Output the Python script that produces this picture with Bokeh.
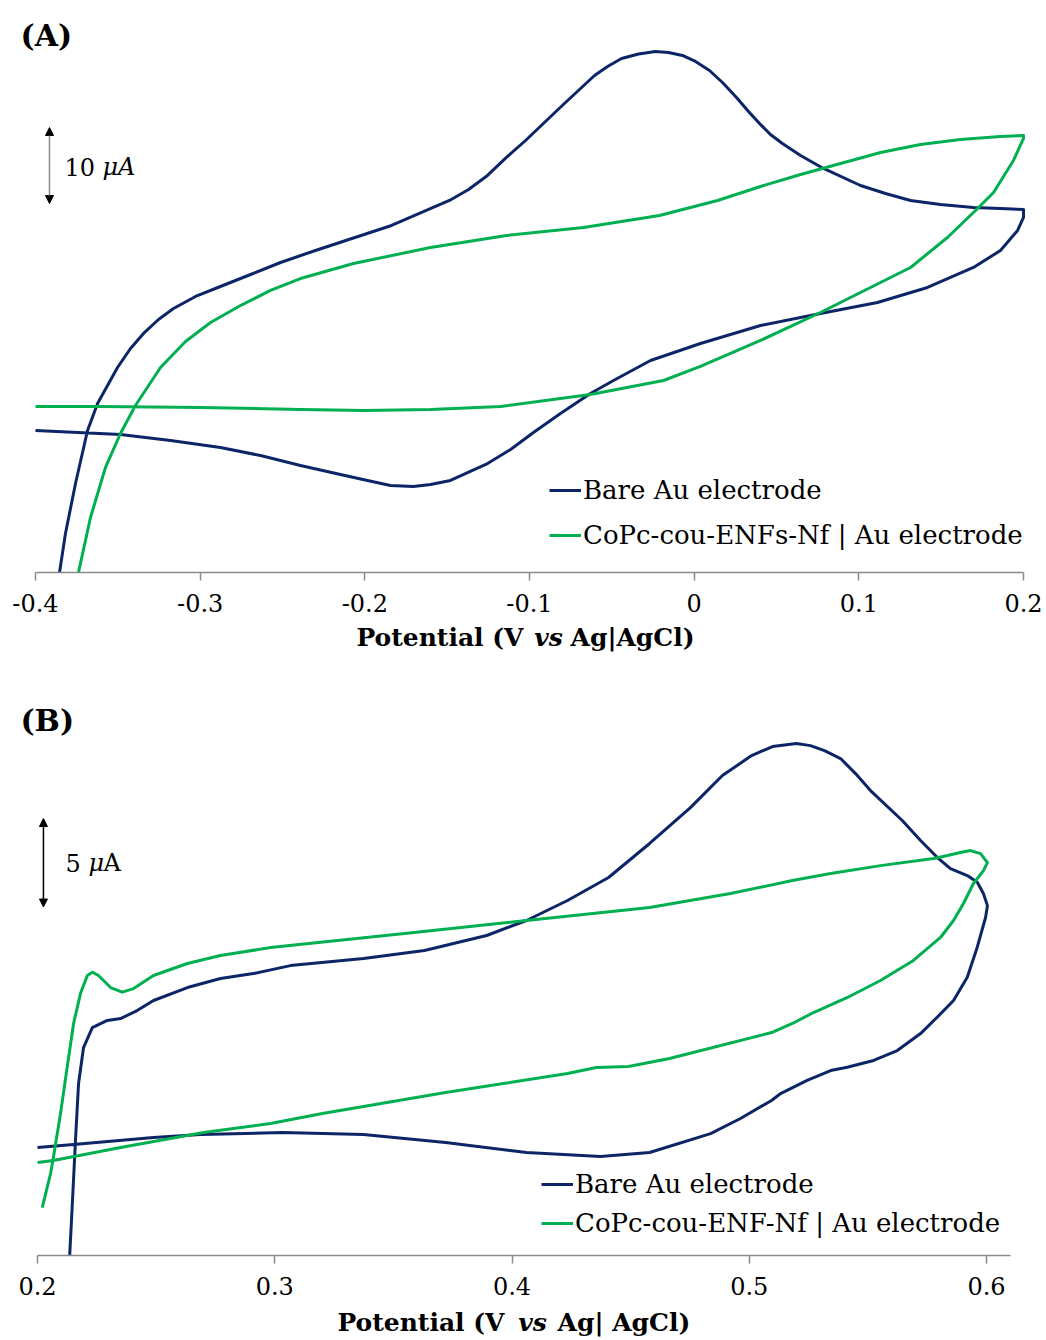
from bokeh.plotting import figure
from bokeh.models import Range1d, FixedTicker, Legend, LegendItem, Label, Arrow, NormalHead
from bokeh.layouts import column
from bokeh.embed import file_html
from bokeh.resources import INLINE

# ---------------- Panel A data (potential V vs Ag|AgCl, current in uA) ----------------
A_BARE_V = [-0.3866, -0.3854, -0.3818, -0.3757, -0.3684, -0.3623, -0.3502, -0.3423, -0.3344,
            -0.3253, -0.3162, -0.3028, -0.2877, -0.2694, -0.2512, -0.2300, -0.1838, -0.1486,
            -0.1370, -0.1255, -0.1140, -0.1024, -0.0903, -0.0788, -0.0690, -0.0605, -0.0526,
            -0.0441, -0.0338, -0.0235, -0.0156, -0.0071, 0.0008, 0.0093, 0.0172, 0.0257,
            0.0330, 0.0397, 0.0463, 0.0536, 0.0646, 0.0785, 0.1010, 0.1162, 0.1314, 0.1496,
            0.1696, 0.1860, 0.2000, 0.2000, 0.1964, 0.1860, 0.1696, 0.1417, 0.1113, 0.0767,
            0.0403, 0.0038, -0.0265, -0.0490, -0.0630, -0.0812, -0.0976, -0.1115, -0.1255,
            -0.1480, -0.1601, -0.1705, -0.1844, -0.1984, -0.2148, -0.2391, -0.2634, -0.2877,
            -0.3180, -0.3484, -0.4000]
A_BARE_I = [-43.68, -40.00, -34.87, -28.29, -21.32, -17.76, -13.03, -10.53, -8.55,
            -6.71, -5.26, -3.68, -2.37, -0.79, 0.79, 2.37, 5.66, 8.95,
            10.39, 12.24, 14.61, 16.84, 19.34, 21.71, 23.68, 25.39, 26.58,
            27.63, 28.22, 28.55, 28.42, 28.03, 27.24, 26.05, 24.47, 22.50,
            20.66, 19.08, 17.63, 16.45, 14.87, 13.16, 10.92, 9.87, 8.95, 8.42,
            8.03, 7.89, 7.76, 6.71, 5.00, 2.37, 0.13, -2.50, -4.47, -5.92,
            -7.50, -9.87, -12.11, -14.74, -16.45, -19.08, -21.58, -23.82, -25.66,
            -27.89, -28.42, -28.68, -28.55, -27.89, -27.11, -25.92, -24.61, -23.55,
            -22.63, -21.84, -21.32]
A_COPC_V = [-0.3751, -0.3739, -0.3666, -0.3575, -0.3484, -0.3393, -0.3241, -0.3089, -0.2937,
            -0.2755, -0.2573, -0.2391, -0.2069, -0.1601, -0.1140, -0.0672, -0.0211, 0.0142,
            0.0403, 0.0646, 0.0889, 0.1132, 0.1374, 0.1617, 0.1860, 0.2000, 0.2000, 0.1939,
            0.1818, 0.1721, 0.1538, 0.1314, 0.1010, 0.0767, 0.0403, 0.0038, -0.0186, -0.0630,
            -0.1176, -0.1601, -0.2002, -0.2391, -0.2998, -0.3605, -0.4000]
A_COPC_I = [-43.68, -40.00, -32.76, -26.18, -21.71, -18.03, -13.03, -9.61, -7.11,
            -4.87, -2.89, -1.32, 0.66, 2.76, 4.34, 5.39, 6.97, 8.95,
            10.79, 12.37, 13.82, 15.26, 16.32, 16.97, 17.37, 17.50, 17.11, 14.21,
            10.00, 7.89, 4.08, 0.13, -3.16, -5.79, -9.47, -12.89, -14.74, -16.58,
            -18.16, -18.55, -18.68, -18.55, -18.29, -18.16, -18.16]
A_XTICKS = [-0.4, -0.3, -0.2, -0.1, 0.0, 0.1, 0.2]
A_XTICK_LABELS = ["-0.4", "-0.3", "-0.2", "-0.1", "0", "0.1", "0.2"]
A_LEGEND = ["Bare Au electrode", "CoPc-cou-ENFs-Nf | Au electrode"]

# ---------------- Panel B data ----------------
B_BARE_V = [0.2133, 0.2136, 0.2146, 0.2160, 0.2173, 0.2194, 0.2231, 0.2294, 0.2350, 0.2420,
            0.2489, 0.2632, 0.2771, 0.2910, 0.3066, 0.3374, 0.3631, 0.3893, 0.4061, 0.4234,
            0.4407, 0.4580, 0.4752, 0.4887, 0.5010, 0.5098, 0.5199, 0.5258, 0.5317, 0.5385,
            0.5448, 0.5511, 0.5645, 0.5722, 0.5792, 0.5848, 0.5919, 0.5961, 0.5987, 0.6004,
            0.5996, 0.5961, 0.5919, 0.5861, 0.5792, 0.5722, 0.5624, 0.5524, 0.5413, 0.5343,
            0.5244, 0.5132, 0.5094, 0.4963, 0.4837, 0.4580, 0.4373, 0.4061, 0.3720, 0.3374,
            0.3033, 0.2687, 0.2489, 0.2152, 0.2000]
B_BARE_I = [-16.41, -14.89, -12.29, -8.50, -5.28, -3.25, -2.12, -1.72, -1.61, -1.16,
            -0.59, 0.14, 0.65, 0.93, 1.38, 1.78, 2.23, 3.08, 3.93, 5.06,
            6.36, 8.28, 10.31, 12.12, 13.25, 13.76, 13.93, 13.81, 13.53, 13.08,
            12.23, 11.27, 9.58, 8.45, 7.50, 6.86, 6.47, 6.09, 5.45, 4.77,
            4.10, 2.42, 0.72, -0.59, -1.54, -2.46, -3.42, -3.98, -4.36, -4.55,
            -5.11, -5.85, -6.24, -7.26, -8.11, -9.18, -9.41, -9.18, -8.62, -8.16,
            -8.05, -8.16, -8.33, -8.73, -8.90]
B_COPC_V = [0.2020, 0.2055, 0.2067, 0.2097, 0.2125, 0.2152, 0.2181, 0.2210, 0.2231, 0.2257,
            0.2308, 0.2357, 0.2405, 0.2489, 0.2632, 0.2771, 0.2982, 0.3547, 0.4061, 0.4580,
            0.4921, 0.5182, 0.5343, 0.5553, 0.5777, 0.5836, 0.5890, 0.5933, 0.5975, 0.6004,
            0.5987, 0.5945, 0.5903, 0.5861, 0.5806, 0.5692, 0.5553, 0.5414, 0.5271, 0.5182,
            0.5094, 0.4664, 0.4491, 0.4356, 0.4234, 0.3720, 0.3201, 0.2982, 0.2700, 0.2350,
            0.2067, 0.2000]
B_COPC_I = [-12.29, -10.37, -9.46, -6.98, -4.36, -1.89, -0.20, 0.82, 1.01, 0.82,
            0.14, -0.12, 0.08, 0.82, 1.50, 1.95, 2.40, 3.19, 3.93, 4.66,
            5.45, 6.19, 6.58, 7.03, 7.43, 7.60, 7.77, 7.88, 7.71, 7.20,
            6.75, 6.02, 4.89, 3.93, 2.97, 1.67, 0.54, -0.42, -1.27, -1.89,
            -2.40, -3.87, -4.32, -4.38, -4.72, -5.79, -6.98, -7.54, -8.05, -8.90,
            -9.63, -9.75]
B_XTICKS = [0.2, 0.3, 0.4, 0.5, 0.6]
B_XTICK_LABELS = ["0.2", "0.3", "0.4", "0.5", "0.6"]
B_LEGEND = ["Bare Au electrode", "CoPc-cou-ENF-Nf | Au electrode"]

FONT = "DejaVu Serif"
BLUE = "#0B2566"
GREEN = "#00B050"
GRAY = "#8A8A8A"
W = 1046


def build(height, xr, yr, bottom, ticks, tick_labels, bounds):
    p = figure(width=W, height=height, x_range=Range1d(*xr), y_range=Range1d(*yr),
               output_backend="svg", toolbar_location=None, y_axis_location=None,
               min_border_left=0, min_border_right=0, min_border_top=0, min_border_bottom=bottom)
    p.outline_line_color = None
    p.xgrid.visible = False
    p.ygrid.visible = False
    ax = p.xaxis[0]
    ax.bounds = bounds
    ax.ticker = FixedTicker(ticks=ticks)
    ax.major_label_overrides = dict(zip(ticks, tick_labels))
    ax.minor_tick_line_color = None
    ax.major_tick_in = 0
    ax.major_tick_out = 8
    ax.axis_line_color = GRAY
    ax.axis_line_width = 1.5
    ax.major_tick_line_color = GRAY
    ax.major_tick_line_width = 1.5
    ax.major_label_text_font = FONT
    ax.major_label_text_font_size = "24px"
    ax.major_label_text_color = "#000000"
    ax.major_label_standoff = 13
    return p


def strip(height):
    s = figure(width=W, height=height, x_range=Range1d(0, W), y_range=Range1d(0, height),
               output_backend="svg", toolbar_location=None, x_axis_location=None,
               y_axis_location=None, min_border=0)
    s.outline_line_color = None
    s.xgrid.visible = False
    s.ygrid.visible = False
    return s


def add_curves(p, bare_v, bare_i, copc_v, copc_i, labels, loc, spacing):
    r1 = p.line(bare_v, bare_i, line_color=BLUE, line_width=3, line_join="round")
    r2 = p.line(copc_v, copc_i, line_color=GREEN, line_width=3, line_join="round")
    leg = Legend(items=[LegendItem(label=labels[0], renderers=[r1]),
                        LegendItem(label=labels[1], renderers=[r2])],
                 location=loc, border_line_color=None, background_fill_alpha=0,
                 padding=0, margin=0, spacing=spacing, glyph_width=32, glyph_height=20,
                 label_standoff=2, label_text_font=FONT, label_text_font_size="26px",
                 label_text_color="#000000", label_height=20)
    p.add_layout(leg)


def add_title(s, y, x_left, x_vs, x_right, left_text, right_text, size="25px"):
    common = dict(y=y, text_font=FONT, text_font_size=size, text_baseline="alphabetic",
                  text_color="#000000")
    s.add_layout(Label(x=x_left, text=left_text, text_align="right", text_font_style="bold", **common))
    s.add_layout(Label(x=x_vs, text="vs", text_align="center", text_font_style="bold italic", **common))
    s.add_layout(Label(x=x_right, text=right_text, text_align="left", text_font_style="bold", **common))


def txt(p, x, y, text, size="24px", style="normal"):
    p.add_layout(Label(x=x, y=y, text=text, text_font=FONT, text_font_size=size,
                       text_font_style=style, text_baseline="middle", text_align="left",
                       text_color="#000000"))


def head():
    return NormalHead(size=8, fill_color="black", line_color="black")


# ---------------- Panel A ----------------
pA = build(622, (-0.42125, 0.21396), (-40.0, 35.26), 50, A_XTICKS, A_XTICK_LABELS, (-0.4, 0.2))
add_curves(pA, A_BARE_V, A_BARE_I, A_COPC_V, A_COPC_I, A_LEGEND, (549, 22), 15)
txt(pA, -0.4091, 30.66, "(A)", size="30px", style="bold")
A_BAR_X, A_BAR_Y0, A_BAR_SPAN = -0.3915, 8.55, 10
pA.add_layout(Arrow(x_start=A_BAR_X, y_start=A_BAR_Y0, x_end=A_BAR_X, y_end=A_BAR_Y0 + A_BAR_SPAN,
                    line_color=GRAY, line_width=1.5, start=head(), end=head()))
txt(pA, -0.3824, 13.29, "10")
txt(pA, -0.3593, 13.29, "\u03bcA", style="italic")

tA = strip(58)
add_title(tA, 43, 523, 548, 570, "Potential (V", "Ag|AgCl)")

# ---------------- Panel B ----------------
pB = build(625, (0.18440, 0.62529), (-15.0, 17.49), 50, B_XTICKS, B_XTICK_LABELS, (0.2, 0.61))
add_curves(pB, B_BARE_V, B_BARE_I, B_COPC_V, B_COPC_I, B_LEGEND, (541, 17), 9)
txt(pB, 0.1928, 15.23, "(B)", size="30px", style="bold")
B_BAR_X, B_BAR_Y0, B_BAR_SPAN = 0.2025, 4.69, 5
pB.add_layout(Arrow(x_start=B_BAR_X, y_start=B_BAR_Y0, x_end=B_BAR_X, y_end=B_BAR_Y0 + B_BAR_SPAN,
                    line_color="black", line_width=1.5, start=head(), end=head()))
txt(pB, 0.2118, 7.20, "5")
txt(pB, 0.2215, 7.20, "\u03bc", style="italic")
txt(pB, 0.2278, 7.20, "A")

tB = strip(35)
add_title(tB, 18, 504, 532, 557, "Potential (V", "Ag| AgCl)")

layout = column(pA, tA, pB, tB, spacing=0)
open("out.html", "w").write(file_html(layout, INLINE))
